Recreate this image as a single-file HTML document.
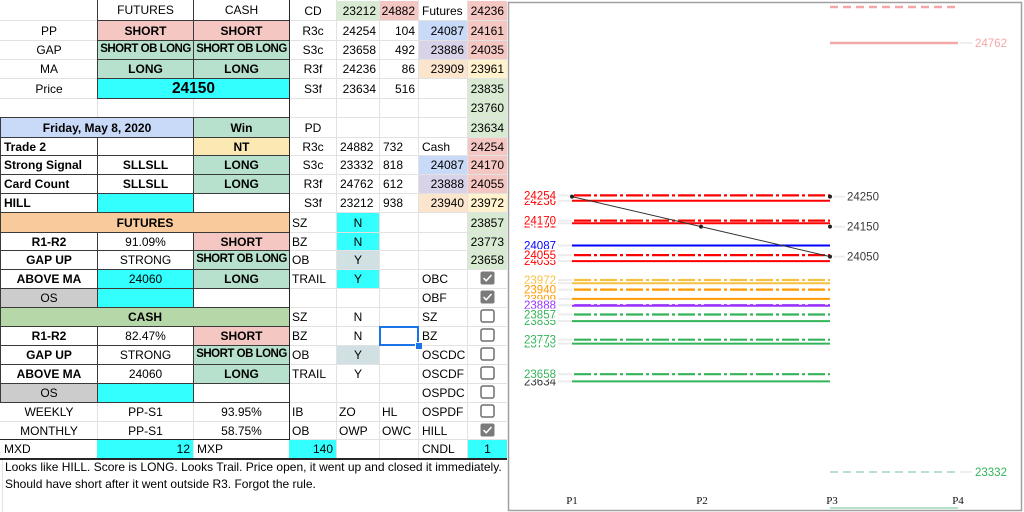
<!DOCTYPE html>
<html><head><meta charset="utf-8">
<style>
body{margin:0;width:1024px;height:512px;position:relative;overflow:hidden;background:#fff;font-family:"Liberation Sans",sans-serif;}
.c{position:absolute;box-sizing:border-box;display:flex;align-items:center;justify-content:center;font-size:12px;color:#000;white-space:nowrap;overflow:visible;line-height:1}
.k{border:1px solid #3a3a3a}
.b{font-weight:bold}
.l{justify-content:flex-start;padding-left:3px}
.r{justify-content:flex-end;padding-right:3px}
.s{font-size:11.5px;letter-spacing:-0.5px}
.gl{position:absolute;background:#e2e2e2}
.dk{position:absolute;background:#262626}
.pk{background:#f4c7c3}.gn{background:#b7e1cd}.cy{background:#3ff}.bl{background:#c9daf8}
.pu{background:#d9d2e9}.pe{background:#fce5cd}.ye{background:#fff2cc}.lg{background:#d9ead3}
.nt{background:#fce8b2}.or{background:#f9cb9c}.cg{background:#b6d7a8}.gy{background:#ccc}.yb{background:#d0e0e3}
.cb{position:absolute;left:480px;width:15px;height:14px}
</style></head><body>

<!-- grid lines -->
<div class="gl" style="left:0;top:20px;width:507px;height:1px"></div>
<div class="gl" style="left:0;top:40px;width:507px;height:1px"></div>
<div class="gl" style="left:0;top:59px;width:507px;height:1px"></div>
<div class="gl" style="left:0;top:78px;width:507px;height:1px"></div>
<div class="gl" style="left:0;top:98px;width:507px;height:1px"></div>
<div class="gl" style="left:0;top:117px;width:507px;height:1px"></div>
<div class="gl" style="left:0;top:137px;width:507px;height:1px"></div>
<div class="gl" style="left:0;top:155px;width:507px;height:1px"></div>
<div class="gl" style="left:0;top:174px;width:507px;height:1px"></div>
<div class="gl" style="left:0;top:193px;width:507px;height:1px"></div>
<div class="gl" style="left:0;top:212px;width:507px;height:1px"></div>
<div class="gl" style="left:0;top:232px;width:507px;height:1px"></div>
<div class="gl" style="left:0;top:250px;width:507px;height:1px"></div>
<div class="gl" style="left:0;top:269px;width:507px;height:1px"></div>
<div class="gl" style="left:0;top:288px;width:507px;height:1px"></div>
<div class="gl" style="left:0;top:307px;width:507px;height:1px"></div>
<div class="gl" style="left:0;top:326px;width:507px;height:1px"></div>
<div class="gl" style="left:0;top:345px;width:507px;height:1px"></div>
<div class="gl" style="left:0;top:364px;width:507px;height:1px"></div>
<div class="gl" style="left:0;top:383px;width:507px;height:1px"></div>
<div class="gl" style="left:0;top:402px;width:507px;height:1px"></div>
<div class="gl" style="left:0;top:421px;width:507px;height:1px"></div>
<div class="gl" style="left:0;top:439px;width:507px;height:1px"></div>
<div class="gl" style="left:97px;top:0;width:1px;height:458px"></div>
<div class="gl" style="left:193px;top:0;width:1px;height:458px"></div>
<div class="gl" style="left:336px;top:0;width:1px;height:458px"></div>
<div class="gl" style="left:379px;top:0;width:1px;height:458px"></div>
<div class="gl" style="left:418px;top:0;width:1px;height:458px"></div>
<div class="gl" style="left:467px;top:0;width:1px;height:458px"></div>
<div class="gl" style="left:2px;top:458px;width:1px;height:54px"></div>

<!-- Row 0 -->
<div class="c k" style="left:97px;top:-1px;width:97px;height:22px">FUTURES</div>
<div class="c k" style="left:193px;top:-1px;width:97px;height:22px">CASH</div>
<div class="c" style="left:290px;top:1px;width:46px;height:19px">CD</div>
<div class="c r lg" style="left:337px;top:1px;width:42px;height:19px">23212</div>
<div class="c r pk" style="left:380px;top:1px;width:38px;height:19px">24882</div>
<div class="c l" style="left:419px;top:1px;width:48px;height:19px">Futures</div>
<div class="c r pk" style="left:468px;top:1px;width:39px;height:19px">24236</div>
<!-- Row 1 -->
<div class="c" style="left:1px;top:21px;width:96px;height:19px">PP</div>
<div class="c k pk b" style="left:97px;top:20px;width:97px;height:21px">SHORT</div>
<div class="c k pk b" style="left:193px;top:20px;width:97px;height:21px">SHORT</div>
<div class="c" style="left:290px;top:21px;width:46px;height:19px">R3c</div>
<div class="c r" style="left:337px;top:21px;width:42px;height:19px">24254</div>
<div class="c r" style="left:380px;top:21px;width:38px;height:19px">104</div>
<div class="c r bl" style="left:419px;top:21px;width:48px;height:19px">24087</div>
<div class="c r pk" style="left:468px;top:21px;width:39px;height:19px">24161</div>
<!-- Row 2 -->
<div class="c" style="left:1px;top:41px;width:96px;height:18px">GAP</div>
<div class="c k gn b s" style="left:97px;top:40px;width:97px;height:20px">SHORT OB LONG</div>
<div class="c k gn b s" style="left:193px;top:40px;width:97px;height:20px">SHORT OB LONG</div>
<div class="c" style="left:290px;top:41px;width:46px;height:18px">S3c</div>
<div class="c r" style="left:337px;top:41px;width:42px;height:18px">23658</div>
<div class="c r" style="left:380px;top:41px;width:38px;height:18px">492</div>
<div class="c r pu" style="left:419px;top:41px;width:48px;height:18px">23886</div>
<div class="c r pk" style="left:468px;top:41px;width:39px;height:18px">24035</div>
<!-- Row 3 -->
<div class="c" style="left:1px;top:60px;width:96px;height:18px">MA</div>
<div class="c k gn b" style="left:97px;top:59px;width:97px;height:20px">LONG</div>
<div class="c k gn b" style="left:193px;top:59px;width:97px;height:20px">LONG</div>
<div class="c" style="left:290px;top:60px;width:46px;height:18px">R3f</div>
<div class="c r" style="left:337px;top:60px;width:42px;height:18px">24236</div>
<div class="c r" style="left:380px;top:60px;width:38px;height:18px">86</div>
<div class="c r pe" style="left:419px;top:60px;width:48px;height:18px">23909</div>
<div class="c r ye" style="left:468px;top:60px;width:39px;height:18px">23961</div>
<!-- Row 4 -->
<div class="c" style="left:1px;top:79px;width:96px;height:19px">Price</div>
<div class="c k cy b" style="left:97px;top:78px;width:193px;height:21px;font-size:15.5px">24150</div>
<div class="c" style="left:290px;top:79px;width:46px;height:19px">S3f</div>
<div class="c r" style="left:337px;top:79px;width:42px;height:19px">23634</div>
<div class="c r" style="left:380px;top:79px;width:38px;height:19px">516</div>
<div class="c r lg" style="left:468px;top:79px;width:39px;height:19px">23835</div>
<!-- Row 5 -->
<div class="c r lg" style="left:468px;top:99px;width:39px;height:18px">23760</div>
<!-- Row 6 -->
<div class="c k bl b" style="left:0;top:117px;width:194px;height:21px">Friday, May 8, 2020</div>
<div class="c k gn b" style="left:193px;top:117px;width:97px;height:21px">Win</div>
<div class="c" style="left:290px;top:118px;width:46px;height:19px">PD</div>
<div class="c r lg" style="left:468px;top:118px;width:39px;height:19px">23634</div>
<!-- Row 7 -->
<div class="c k b l" style="left:0;top:137px;width:98px;height:19px">Trade 2</div>
<div class="c k" style="left:97px;top:137px;width:97px;height:19px"></div>
<div class="c k nt b" style="left:193px;top:137px;width:97px;height:19px">NT</div>
<div class="c" style="left:290px;top:138px;width:46px;height:17px">R3c</div>
<div class="c l" style="left:337px;top:138px;width:42px;height:17px">24882</div>
<div class="c l" style="left:380px;top:138px;width:38px;height:17px">732</div>
<div class="c l" style="left:419px;top:138px;width:48px;height:17px">Cash</div>
<div class="c r pk" style="left:468px;top:138px;width:39px;height:17px">24254</div>
<!-- Row 8 -->
<div class="c k b l" style="left:0;top:155px;width:98px;height:20px">Strong Signal</div>
<div class="c k b" style="left:97px;top:155px;width:97px;height:20px">SLLSLL</div>
<div class="c k gn b" style="left:193px;top:155px;width:97px;height:20px">LONG</div>
<div class="c" style="left:290px;top:156px;width:46px;height:18px">S3c</div>
<div class="c l" style="left:337px;top:156px;width:42px;height:18px">23332</div>
<div class="c l" style="left:380px;top:156px;width:38px;height:18px">818</div>
<div class="c r bl" style="left:419px;top:156px;width:48px;height:18px">24087</div>
<div class="c r pk" style="left:468px;top:156px;width:39px;height:18px">24170</div>
<!-- Row 9 -->
<div class="c k b l" style="left:0;top:174px;width:98px;height:20px">Card Count</div>
<div class="c k b" style="left:97px;top:174px;width:97px;height:20px">SLLSLL</div>
<div class="c k gn b" style="left:193px;top:174px;width:97px;height:20px">LONG</div>
<div class="c" style="left:290px;top:175px;width:46px;height:18px">R3f</div>
<div class="c l" style="left:337px;top:175px;width:42px;height:18px">24762</div>
<div class="c l" style="left:380px;top:175px;width:38px;height:18px">612</div>
<div class="c r pu" style="left:419px;top:175px;width:48px;height:18px">23888</div>
<div class="c r pk" style="left:468px;top:175px;width:39px;height:18px">24055</div>
<!-- Row 10 -->
<div class="c k b l" style="left:0;top:193px;width:98px;height:20px">HILL</div>
<div class="c k cy" style="left:97px;top:193px;width:97px;height:20px"></div>
<div class="c k" style="left:193px;top:193px;width:97px;height:20px"></div>
<div class="c" style="left:290px;top:194px;width:46px;height:18px">S3f</div>
<div class="c l" style="left:337px;top:194px;width:42px;height:18px">23212</div>
<div class="c l" style="left:380px;top:194px;width:38px;height:18px">938</div>
<div class="c r pe" style="left:419px;top:194px;width:48px;height:18px">23940</div>
<div class="c r ye" style="left:468px;top:194px;width:39px;height:18px">23972</div>
<!-- Row 11 -->
<div class="c k or b" style="left:0;top:212px;width:290px;height:21px">FUTURES</div>
<div class="c l" style="left:290px;top:213px;width:46px;height:19px;padding-left:2px">SZ</div>
<div class="c cy" style="left:337px;top:213px;width:42px;height:19px">N</div>
<div class="c r lg" style="left:468px;top:213px;width:39px;height:19px">23857</div>
<!-- Row 12 -->
<div class="c k b" style="left:0;top:232px;width:98px;height:19px">R1-R2</div>
<div class="c k" style="left:97px;top:232px;width:97px;height:19px">91.09%</div>
<div class="c k pk b" style="left:193px;top:232px;width:97px;height:19px">SHORT</div>
<div class="c l" style="left:290px;top:233px;width:46px;height:17px;padding-left:2px">BZ</div>
<div class="c cy" style="left:337px;top:233px;width:42px;height:17px">N</div>
<div class="c r lg" style="left:468px;top:233px;width:39px;height:17px">23773</div>
<!-- Row 13 -->
<div class="c k b" style="left:0;top:250px;width:98px;height:20px">GAP UP</div>
<div class="c k" style="left:97px;top:250px;width:97px;height:20px">STRONG</div>
<div class="c k gn b s" style="left:193px;top:250px;width:97px;height:20px">SHORT OB LONG</div>
<div class="c l" style="left:290px;top:251px;width:46px;height:18px;padding-left:2px">OB</div>
<div class="c yb" style="left:337px;top:251px;width:42px;height:18px">Y</div>
<div class="c r lg" style="left:468px;top:251px;width:39px;height:18px">23658</div>
<!-- Row 14 -->
<div class="c k b" style="left:0;top:269px;width:98px;height:20px">ABOVE MA</div>
<div class="c k cy" style="left:97px;top:269px;width:97px;height:20px">24060</div>
<div class="c k gn b" style="left:193px;top:269px;width:97px;height:20px">LONG</div>
<div class="c l" style="left:290px;top:270px;width:46px;height:18px;padding-left:2px">TRAIL</div>
<div class="c cy" style="left:337px;top:270px;width:42px;height:18px">Y</div>
<div class="c l" style="left:419px;top:270px;width:48px;height:18px">OBC</div>
<!-- Row 15 -->
<div class="c k gy" style="left:0;top:288px;width:98px;height:20px">OS</div>
<div class="c k cy" style="left:97px;top:288px;width:97px;height:20px"></div>
<div class="c k" style="left:193px;top:288px;width:97px;height:20px"></div>
<div class="c l" style="left:419px;top:289px;width:48px;height:18px">OBF</div>
<!-- Row 16 -->
<div class="c k cg b" style="left:0;top:307px;width:290px;height:20px">CASH</div>
<div class="c l" style="left:290px;top:308px;width:46px;height:18px;padding-left:2px">SZ</div>
<div class="c" style="left:337px;top:308px;width:42px;height:18px">N</div>
<div class="c l" style="left:419px;top:308px;width:48px;height:18px">SZ</div>
<!-- Row 17 -->
<div class="c k b" style="left:0;top:326px;width:98px;height:20px">R1-R2</div>
<div class="c k" style="left:97px;top:326px;width:97px;height:20px">82.47%</div>
<div class="c k pk b" style="left:193px;top:326px;width:97px;height:20px">SHORT</div>
<div class="c l" style="left:290px;top:327px;width:46px;height:18px;padding-left:2px">BZ</div>
<div class="c" style="left:337px;top:327px;width:42px;height:18px">N</div>
<div class="c l" style="left:419px;top:327px;width:48px;height:18px">BZ</div>
<div style="position:absolute;left:379px;top:326px;width:40px;height:20px;box-sizing:border-box;border:2px solid #1a73e8"></div>
<div style="position:absolute;left:415px;top:342px;width:6px;height:6px;background:#1a73e8;border:1px solid #fff"></div>
<!-- Row 18 -->
<div class="c k b" style="left:0;top:345px;width:98px;height:20px">GAP UP</div>
<div class="c k" style="left:97px;top:345px;width:97px;height:20px">STRONG</div>
<div class="c k gn b s" style="left:193px;top:345px;width:97px;height:20px">SHORT OB LONG</div>
<div class="c l" style="left:290px;top:346px;width:46px;height:18px;padding-left:2px">OB</div>
<div class="c yb" style="left:337px;top:346px;width:42px;height:18px">Y</div>
<div class="c l" style="left:419px;top:346px;width:48px;height:18px">OSCDC</div>
<!-- Row 19 -->
<div class="c k b" style="left:0;top:364px;width:98px;height:20px">ABOVE MA</div>
<div class="c k" style="left:97px;top:364px;width:97px;height:20px">24060</div>
<div class="c k gn b" style="left:193px;top:364px;width:97px;height:20px">LONG</div>
<div class="c l" style="left:290px;top:365px;width:46px;height:18px;padding-left:2px">TRAIL</div>
<div class="c" style="left:337px;top:365px;width:42px;height:18px">Y</div>
<div class="c l" style="left:419px;top:365px;width:48px;height:18px">OSCDF</div>
<!-- Row 20 -->
<div class="c k gy" style="left:0;top:383px;width:98px;height:20px">OS</div>
<div class="c k cy" style="left:97px;top:383px;width:97px;height:20px"></div>
<div class="c k" style="left:193px;top:383px;width:97px;height:20px"></div>
<div class="c l" style="left:419px;top:384px;width:48px;height:18px">OSPDC</div>
<!-- Row 21 -->
<div class="c" style="left:1px;top:403px;width:96px;height:18px">WEEKLY</div>
<div class="c" style="left:98px;top:403px;width:95px;height:18px">PP-S1</div>
<div class="c" style="left:194px;top:403px;width:95px;height:18px">93.95%</div>
<div class="c l" style="left:290px;top:403px;width:46px;height:18px;padding-left:2px">IB</div>
<div class="c l" style="left:337px;top:403px;width:42px;height:18px;padding-left:2px">ZO</div>
<div class="c l" style="left:380px;top:403px;width:38px;height:18px;padding-left:2px">HL</div>
<div class="c l" style="left:419px;top:403px;width:48px;height:18px">OSPDF</div>
<!-- Row 22 -->
<div class="c" style="left:1px;top:422px;width:96px;height:17px">MONTHLY</div>
<div class="c" style="left:98px;top:422px;width:95px;height:17px">PP-S1</div>
<div class="c" style="left:194px;top:422px;width:95px;height:17px">58.75%</div>
<div class="c l" style="left:290px;top:422px;width:46px;height:17px;padding-left:2px">OB</div>
<div class="c l" style="left:337px;top:422px;width:42px;height:17px;padding-left:2px">OWP</div>
<div class="c l" style="left:380px;top:422px;width:38px;height:17px;padding-left:2px">OWC</div>
<div class="c l" style="left:419px;top:422px;width:48px;height:17px">HILL</div>
<!-- Row 23 -->
<div class="c l" style="left:1px;top:440px;width:96px;height:18px">MXD</div>
<div class="c r cy" style="left:97px;top:440px;width:96px;height:18px">12</div>
<div class="c l" style="left:194px;top:440px;width:95px;height:18px">MXP</div>
<div class="c r cy" style="left:289px;top:440px;width:47px;height:18px">140</div>
<div class="c l" style="left:419px;top:440px;width:48px;height:18px">CNDL</div>
<div class="c cy" style="left:468px;top:440px;width:39px;height:18px">1</div>

<!-- dark lines -->
<div class="dk" style="left:289px;top:0;width:1px;height:440px"></div>
<div class="dk" style="left:0;top:439px;width:290px;height:1px"></div>
<div class="dk" style="left:0;top:458px;width:507px;height:2px"></div>

<!-- checkboxes -->
<svg class="cb" style="top:271px" viewBox="0 0 15 14"><rect x="0.5" y="0.5" width="14" height="13" rx="2" fill="#7a7a7a"/><polyline points="3.5,7 6.2,9.8 11.5,4" stroke="#fff" stroke-width="1.5" fill="none"/></svg>
<svg class="cb" style="top:290px" viewBox="0 0 15 14"><rect x="0.5" y="0.5" width="14" height="13" rx="2" fill="#7a7a7a"/><polyline points="3.5,7 6.2,9.8 11.5,4" stroke="#fff" stroke-width="1.5" fill="none"/></svg>
<svg class="cb" style="top:309px" viewBox="0 0 15 14"><rect x="1" y="1" width="13" height="12" rx="2" fill="#fff" stroke="#6e6e6e" stroke-width="1.5"/></svg>
<svg class="cb" style="top:328px" viewBox="0 0 15 14"><rect x="1" y="1" width="13" height="12" rx="2" fill="#fff" stroke="#6e6e6e" stroke-width="1.5"/></svg>
<svg class="cb" style="top:347px" viewBox="0 0 15 14"><rect x="1" y="1" width="13" height="12" rx="2" fill="#fff" stroke="#6e6e6e" stroke-width="1.5"/></svg>
<svg class="cb" style="top:366px" viewBox="0 0 15 14"><rect x="1" y="1" width="13" height="12" rx="2" fill="#fff" stroke="#6e6e6e" stroke-width="1.5"/></svg>
<svg class="cb" style="top:385px" viewBox="0 0 15 14"><rect x="1" y="1" width="13" height="12" rx="2" fill="#fff" stroke="#6e6e6e" stroke-width="1.5"/></svg>
<svg class="cb" style="top:404px" viewBox="0 0 15 14"><rect x="1" y="1" width="13" height="12" rx="2" fill="#fff" stroke="#6e6e6e" stroke-width="1.5"/></svg>
<svg class="cb" style="top:423px" viewBox="0 0 15 14"><rect x="0.5" y="0.5" width="14" height="13" rx="2" fill="#7a7a7a"/><polyline points="3.5,7 6.2,9.8 11.5,4" stroke="#fff" stroke-width="1.5" fill="none"/></svg>

<!-- note text -->
<div style="position:absolute;left:5px;top:459px;font-size:12px;line-height:17px;color:#000;white-space:nowrap">Looks like HILL. Score is LONG. Looks Trail. Price open, it went up and closed it immediately.<br>Should have short after it went outside R3. Forgot the rule.</div>

<!-- chart -->
<svg style="position:absolute;left:0;top:0" width="1024" height="512" viewBox="0 0 1024 512">
<rect x="508.5" y="2.5" width="513" height="508" fill="#fff" stroke="#a0a0a0" stroke-width="1.5"/>
<g fill="none">
<line x1="830" y1="7" x2="958" y2="7" stroke="#f4a7a7" stroke-width="2.5" stroke-dasharray="8 5"/>
<line x1="830" y1="43" x2="958" y2="43" stroke="#f4a7a7" stroke-width="2.5"/>
<line x1="830" y1="472" x2="958" y2="472" stroke="#b7e1cd" stroke-width="2" stroke-dasharray="8 5"/>
<line x1="830" y1="508" x2="958" y2="508" stroke="#b7e1cd" stroke-width="2"/>
<line x1="960" y1="43" x2="972" y2="43" stroke="#eee" stroke-width="2"/>
<line x1="960" y1="472" x2="972" y2="472" stroke="#eee" stroke-width="2"/>
<g stroke="#ececec" stroke-width="2">
<line x1="558" y1="195.4" x2="572" y2="195.4"/><line x1="558" y1="200.8" x2="572" y2="200.8"/>
<line x1="558" y1="220.6" x2="572" y2="220.6"/><line x1="558" y1="223.3" x2="572" y2="223.3"/>
<line x1="558" y1="245.5" x2="572" y2="245.5"/><line x1="558" y1="255.1" x2="572" y2="255.1"/>
<line x1="558" y1="261.1" x2="572" y2="261.1"/><line x1="558" y1="280" x2="572" y2="280"/>
<line x1="558" y1="283.3" x2="572" y2="283.3"/><line x1="558" y1="289.6" x2="572" y2="289.6"/>
<line x1="558" y1="298.9" x2="572" y2="298.9"/><line x1="558" y1="305.2" x2="572" y2="305.2"/>
<line x1="558" y1="314.5" x2="572" y2="314.5"/><line x1="558" y1="321.1" x2="572" y2="321.1"/>
<line x1="558" y1="339.7" x2="572" y2="339.7"/><line x1="558" y1="343.6" x2="572" y2="343.6"/>
<line x1="558" y1="374.2" x2="572" y2="374.2"/><line x1="558" y1="381.4" x2="572" y2="381.4"/>
<line x1="833" y1="196.6" x2="845" y2="196.6"/><line x1="833" y1="226.6" x2="845" y2="226.6"/>
<line x1="833" y1="256.6" x2="845" y2="256.6"/>
</g>
<g stroke-width="2">
<line x1="572" y1="200.8" x2="830" y2="200.8" stroke="#ff0000"/>
<line x1="572" y1="223.3" x2="830" y2="223.3" stroke="#ff0000"/>
<line x1="572" y1="245.5" x2="830" y2="245.5" stroke="#0000ff"/>
<line x1="572" y1="261.1" x2="830" y2="261.1" stroke="#ff0000"/>
<line x1="572" y1="283.3" x2="830" y2="283.3" stroke="#f6c142"/>
<line x1="572" y1="298.9" x2="830" y2="298.9" stroke="#ff9900"/>
<line x1="572" y1="305.8" x2="830" y2="305.8" stroke="#9933ff"/>
<line x1="572" y1="321.1" x2="830" y2="321.1" stroke="#34b45a"/>
<line x1="572" y1="343.6" x2="830" y2="343.6" stroke="#34b45a"/>
<line x1="572" y1="381.4" x2="830" y2="381.4" stroke="#34b45a"/>
</g>
<g stroke-width="2.2" stroke-dasharray="17 3 3 3">
<line x1="574" y1="195.4" x2="830" y2="195.4" stroke="#ff0000"/>
<line x1="574" y1="220.6" x2="830" y2="220.6" stroke="#ff0000"/>
<line x1="574" y1="255.1" x2="830" y2="255.1" stroke="#ff0000"/>
<line x1="574" y1="280" x2="830" y2="280" stroke="#f6c142"/>
<line x1="574" y1="289.6" x2="830" y2="289.6" stroke="#ff9900"/>
<line x1="574" y1="305.2" x2="830" y2="305.2" stroke="#9933ff"/>
<line x1="574" y1="314.5" x2="830" y2="314.5" stroke="#34b45a"/>
<line x1="574" y1="339.7" x2="830" y2="339.7" stroke="#34b45a"/>
<line x1="574" y1="374.2" x2="830" y2="374.2" stroke="#34b45a"/>
</g>
<polyline points="572,196.6 701,226.6 830,256.6" stroke="#333" stroke-width="1"/>
</g>
<g fill="#222">
<circle cx="572" cy="196.6" r="2"/><circle cx="701" cy="226.6" r="2"/><circle cx="830" cy="256.6" r="2"/>
<circle cx="830" cy="196.6" r="2"/><circle cx="830" cy="226.6" r="2"/>
</g>
<g font-family="Liberation Sans, sans-serif" font-size="11.5" text-anchor="end" stroke="#fff" stroke-width="3" paint-order="stroke">
<text x="556" y="204.8" fill="#ff0000">24236</text>
<text x="556" y="227.3" fill="#ff0000">24161</text>
<text x="556" y="249.5" fill="#0000ff">24087</text>
<text x="556" y="265.1" fill="#ff0000">24035</text>
<text x="556" y="287.3" fill="#f6c142">23961</text>
<text x="556" y="302.9" fill="#ff9900">23909</text>
<text x="556" y="309.8" fill="#9933ff">23886</text>
<text x="556" y="325.1" fill="#34b45a">23835</text>
<text x="556" y="347.6" fill="#34b45a">23760</text>
<text x="556" y="385.4" fill="#333">23634</text>
<text x="556" y="199.4" fill="#ff0000">24254</text>
<text x="556" y="224.6" fill="#ff0000">24170</text>
<text x="556" y="259.1" fill="#ff0000">24055</text>
<text x="556" y="284" fill="#f6c142">23972</text>
<text x="556" y="293.6" fill="#ff9900">23940</text>
<text x="556" y="309.2" fill="#9933ff">23888</text>
<text x="556" y="318.5" fill="#34b45a">23857</text>
<text x="556" y="343.7" fill="#34b45a">23773</text>
<text x="556" y="378.2" fill="#34b45a">23658</text>
</g>
<g font-family="Liberation Sans, sans-serif" font-size="11.5" fill="#3a3a3a">
<text x="847" y="200.6">24250</text>
<text x="847" y="230.6">24150</text>
<text x="847" y="260.6">24050</text>
<text x="975" y="47" fill="#f4a7a7">24762</text>
<text x="975" y="476" fill="#34b45a">23332</text>
</g>
<g font-family="Liberation Serif, serif" font-size="11" fill="#111" text-anchor="middle">
<text x="572" y="504">P1</text>
<text x="702" y="504">P2</text>
<text x="832" y="504">P3</text>
<text x="958" y="504">P4</text>
</g>
</svg>
</body></html>
